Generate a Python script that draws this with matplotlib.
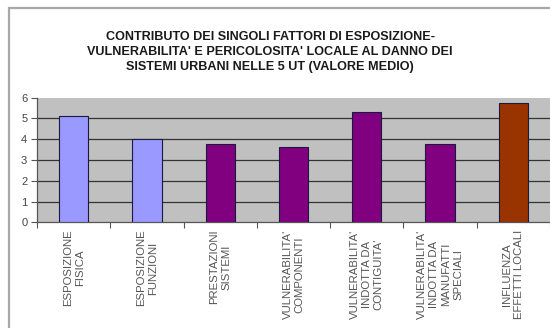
import matplotlib
matplotlib.use("Agg")
import matplotlib.pyplot as plt
from matplotlib.patches import Rectangle

# valori medi per fattore
categorie = [
    "ESPOSIZIONE\nFISICA",
    "ESPOSIZIONE\nFUNZIONI",
    "PRESTAZIONI\nSISTEMI",
    "VULNERABILITA'\nCOMPONENTI",
    "VULNERABILITA'\nINDOTTA DA\nCONTIGUITA'",
    "VULNERABILITA'\nINDOTTA DA\nMANUFATTI\nSPECIALI",
    "INFLUENZA\nEFFETTI LOCALI",
]
valori = [5.1, 4.03, 3.76, 3.63, 5.3, 3.76, 5.73]
colori = ["#9999FF", "#9999FF", "#800080", "#800080", "#800080", "#800080", "#993300"]
yticks = [0, 1, 2, 3, 4, 5, 6]

titolo = ("CONTRIBUTO DEI SINGOLI FATTORI DI ESPOSIZIONE-\n"
          "VULNERABILITA' E PERICOLOSITA' LOCALE AL DANNO DEI\n"
          "SISTEMI URBANI NELLE 5 UT (VALORE MEDIO)")

plt.rcParams['font.family'] = ['Liberation Sans', 'DejaVu Sans']

W, H = 550, 328
fig = plt.figure(figsize=(W / 100, H / 100), dpi=100)
fig.patch.set_facecolor("white")

# cornice del grafico
fig.patches.append(Rectangle((8.5 / W, -0.1), 1.2, (H - 8.5) / H + 0.1,
                             transform=fig.transFigure, fill=False,
                             edgecolor="#a8a8a8", linewidth=1.6))

ax = fig.add_axes([37 / W, (H - 222.3) / H, (550 - 37) / W, (222.3 - 97.7) / H])
ax.set_facecolor("#C0C0C0")

x = list(range(len(valori)))
ax.bar(x, valori, width=0.4, color=colori, edgecolor="#1a1a40", linewidth=0.8, zorder=3)

ax.set_xlim(-0.5, len(valori) - 0.5)
ax.set_ylim(0, 6)
ax.set_yticks(yticks)
ax.set_yticklabels([str(v) for v in yticks], fontsize=8, color="#444444")

for v in yticks[1:-1]:
    ax.axhline(v, color="#333333", linewidth=0.9, zorder=1)

ax.set_xticks([i - 0.5 for i in range(len(valori) + 1)], minor=False)
ax.set_xticklabels([])
ax.tick_params(axis="x", direction="out", length=4, width=0.8, color="#555555")
ax.tick_params(axis="y", direction="out", length=4, width=0.8, color="#555555", pad=3)

for i, lab in enumerate(categorie):
    ax.text(i, -0.36, lab, rotation=90, ha="center", va="top",
            multialignment="center", fontsize=8.2, color="#555555",
            linespacing=1.25, transform=ax.transData, clip_on=False)

for s in ["top", "right"]:
    ax.spines[s].set_visible(False)
for s in ["left", "bottom"]:
    ax.spines[s].set_color("#555555")
    ax.spines[s].set_linewidth(0.9)

fig.text(270 / W, 1 - 31 / H, titolo, ha="center", va="top", fontsize=9.1,
         fontweight="bold", color="#1a1a1a", linespacing=1.35)

fig.savefig("out.png", dpi=100)
